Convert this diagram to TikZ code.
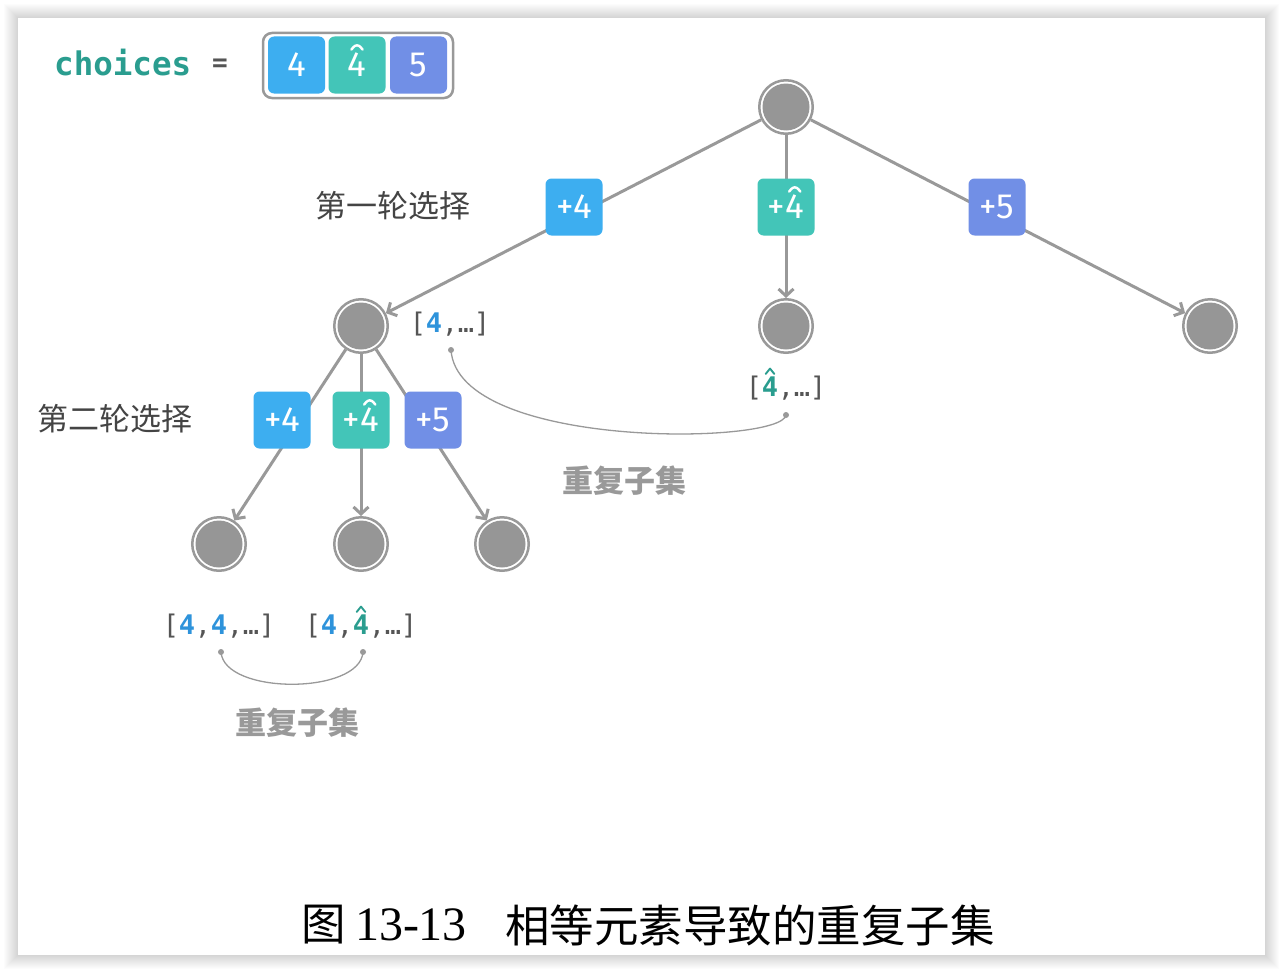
\documentclass[tikz,border=0pt]{standalone}
\usepackage{fontspec}
\usetikzlibrary{arrows.meta}
\setmainfont{Liberation Serif}
\newfontfamily\cjk{Noto Sans CJK SC}
\newfontfamily\boxf{Fira Sans}
\newfontfamily\monof{DejaVu Sans Mono}
\definecolor{cg}{HTML}{999999}
\definecolor{cfill}{HTML}{969696}
\definecolor{cblue}{HTML}{3DAEF0}
\definecolor{cteal}{HTML}{43C5B8}
\definecolor{cpurp}{HTML}{718FE6}
\definecolor{tteal}{HTML}{2A9D8F}
\definecolor{tblue}{HTML}{2E93DB}
\definecolor{tdark}{HTML}{555555}
\definecolor{tlabel}{HTML}{444444}
\newcommand{\hatfour}{\leavevmode\setbox0\hbox{4}\rlap{\hbox to \wd0{\hss\raisebox{\dimexpr\ht0+0.1em\relax}[0pt][0pt]{\tikz[baseline=0pt,x=1em,y=1em]\draw[line width=0.07em,line cap=round,line join=round] (-0.16,0) -- (0,0.2) -- (0.16,0);}\hss}}4}
\newcommand{\fsz}[1]{\fontsize{#1}{#1}\selectfont}
\newcommand{\cl}[1]{\makebox[16pt]{#1}}
\begin{document}
\begin{tikzpicture}[x=1pt,y=-1pt,
  tn/.style={circle, draw=cg, line width=2.5pt, fill=white, minimum size=53.5pt, inner sep=0pt,
     path picture={\fill[cfill] (path picture bounding box.center) circle (23.5pt);}},
  edge/.style={draw=cg, line width=3pt, -{Straight Barb[length=7pt,width=15pt]}},
  choicebox/.style={rounded corners=6pt, minimum width=57pt, minimum height=57pt, inner sep=0pt, text=white, font=\boxf\fsz{35}},
  lst/.style={font=\monof\fsz{27}, text=tdark, inner sep=0pt},
  cn/.style={font=\cjk\fsz{31}, text=tlabel, inner sep=0pt},
  dup/.style={font=\cjk\bfseries\fsz{31}, text=cg, inner sep=0pt},
  link/.style={draw=cg, line width=1.3pt},
  dotc/.style={circle, fill=cg, minimum size=6pt, inner sep=0pt}
]
\useasboundingbox (0,0) rectangle (1284,974);
\fill[white] (0,0) rectangle (1284,974);
\foreach \i in {1,...,14} {\fill[black,opacity=0.011] (18-\i,18-\i) rectangle (1265+\i,955+\i);}
\fill[white] (18,18) rectangle (1265,955);

% choices array
\node[font=\monof\bfseries\fsz{32.5}, text=tteal, anchor=base west, inner sep=0pt] (ch) at (54,75) {choices};
\node[font=\monof\bfseries\fsz{26}, text=tdark, inner sep=0pt] (eq) at (220,65) {=};
\draw[cg, line width=2.5pt, rounded corners=9pt] (263,33) rectangle (453,98);
\node[choicebox, fill=cblue] (c1) at (296.5,65) {4};
\node[choicebox, fill=cteal] (c2) at (357,65) {\hatfour};
\node[choicebox, fill=cpurp] (c3) at (418.5,65) {5};

% tree nodes
\node[tn] (r) at (786,107) {};
\node[tn] (a) at (361,326) {};
\node[tn] (b) at (786,326) {};
\node[tn] (c) at (1210,326) {};
\node[tn] (d) at (219,544) {};
\node[tn] (e) at (361,544) {};
\node[tn] (f) at (502,544) {};

% edges
\draw[edge] (r) -- (a);
\draw[edge] (r) -- (b);
\draw[edge] (r) -- (c);
\draw[edge] (a) -- (d);
\draw[edge] (a) -- (e);
\draw[edge] (a) -- (f);

% choice labels on edges
\node[choicebox, fill=cblue] (l1a) at (574,207) {+4};
\node[choicebox, fill=cteal] (l1b) at (786,207) {+\hatfour};
\node[choicebox, fill=cpurp] (l1c) at (997,207) {+5};
\node[choicebox, fill=cblue] (l2a) at (282,420) {+4};
\node[choicebox, fill=cteal] (l2b) at (361,420) {+\hatfour};
\node[choicebox, fill=cpurp] (l2c) at (433,420) {+5};

% round labels
\node[cn] (t1) at (393,206) {第一轮选择};
\node[cn] (t2) at (115,419) {第二轮选择};

% subset labels
\node[lst] (s1) at (450,324) {\cl{[}\cl{\bfseries\color{tblue}4}\cl{,}\cl{…}\cl{]}};
\node[lst] (s2) at (786,388) {\cl{[}\cl{\bfseries\color{tteal}\hatfour}\cl{,}\cl{…}\cl{]}};
\node[lst] (s3) at (219,626) {\cl{[}\cl{\bfseries\color{tblue}4}\cl{,}\cl{\bfseries\color{tblue}4}\cl{,}\cl{…}\cl{]}};
\node[lst] (s4) at (361,626) {\cl{[}\cl{\bfseries\color{tblue}4}\cl{,}\cl{\bfseries\color{tteal}\hatfour}\cl{,}\cl{…}\cl{]}};

% duplicate links
\node[dotc] (p1) at (451,350) {};
\node[dotc] (p2) at (786,415) {};
\node[dotc] (p3) at (221,652) {};
\node[dotc] (p4) at (363,652) {};
\draw[link] (p1.center) .. controls (458,450) and (782,445) .. (p2.center);
\draw[link] (p3.center) .. controls (224,695) and (360,695) .. (p4.center);
\node[dup] (u1) at (624,481) {重复子集};
\node[dup] (u2) at (297,723) {重复子集};

% caption
\node[font=\cjk\fsz{44.5}, inner sep=0pt] (cap1) at (324,925) {图};
\node[font=\fsz{48}, inner sep=0pt] (cap2) at (411,925) {13-13};
\node[font=\cjk\fsz{44.5}, inner sep=0pt] (cap3) at (750,925) {相等元素导致的重复子集};
\end{tikzpicture}
\end{document}
